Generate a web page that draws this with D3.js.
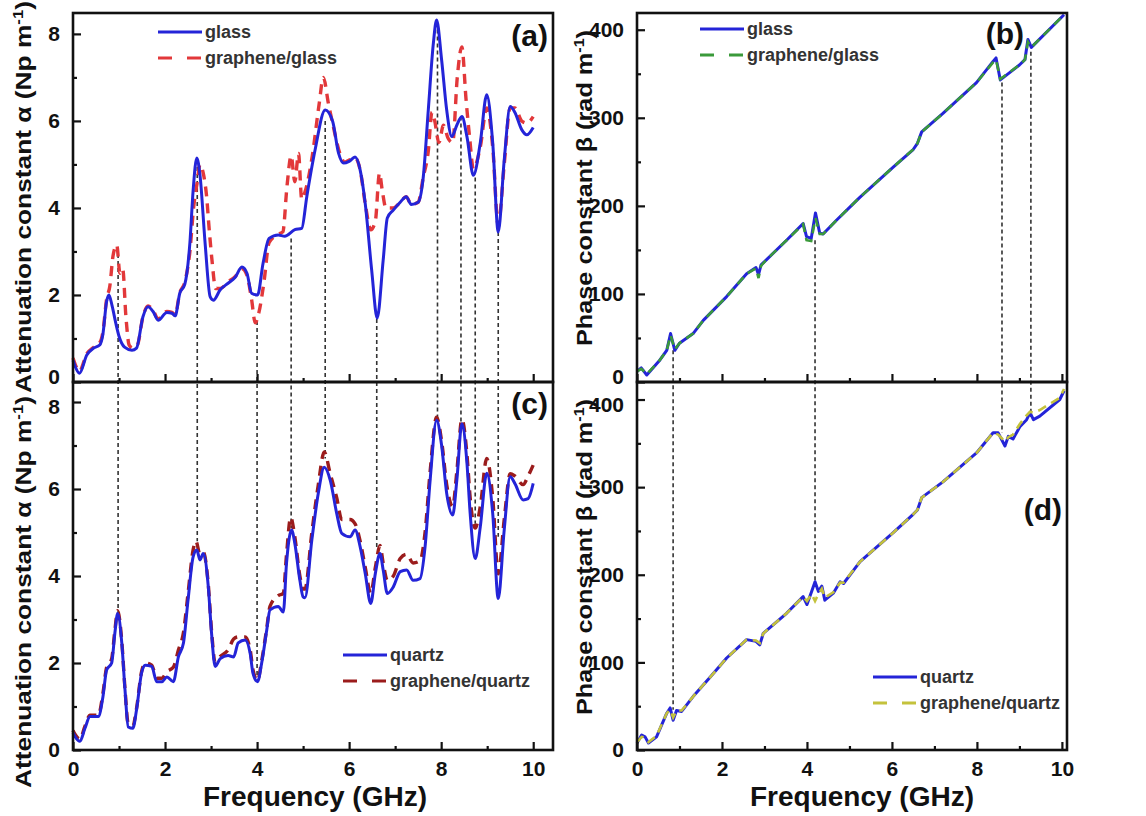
<!DOCTYPE html>
<html lang="en">
<head>
<meta charset="UTF-8" />
<title>Attenuation and phase constants</title>
<script src="https://cdn.jsdelivr.net/npm/d3@7/dist/d3.min.js"></script>
<style>
  body { margin: 0; background: #fff; }
  svg { display: block; font-family: "Liberation Sans", Arial, sans-serif; }
</style>
</head>
<body>
<script>
// frequency (GHz) / value pairs
const glassAlpha = [[0,0.5],[0.05,0.35],[0.14,0.2],[0.3,0.62],[0.45,0.78],[0.58,0.85],[0.65,1.1],[0.73,1.85],[0.78,2.0],[0.85,1.75],[0.93,1.35],[1.0,1.05],[1.12,0.8],[1.28,0.73],[1.38,0.78],[1.52,1.5],[1.63,1.73],[1.74,1.62],[1.85,1.42],[2.04,1.6],[2.15,1.58],[2.22,1.52],[2.32,2.04],[2.43,2.25],[2.54,3.2],[2.61,4.4],[2.69,5.15],[2.76,4.75],[2.87,3.2],[2.98,1.96],[3.05,1.88],[3.2,2.12],[3.37,2.27],[3.52,2.4],[3.67,2.64],[3.78,2.5],[3.88,2.04],[4.01,2.0],[4.13,2.73],[4.26,3.3],[4.46,3.38],[4.6,3.35],[4.82,3.5],[4.97,3.53],[5.08,4.26],[5.26,5.33],[5.48,6.25],[5.64,6.0],[5.77,5.26],[5.88,5.03],[6.0,5.07],[6.13,5.17],[6.24,4.87],[6.35,4.1],[6.49,2.57],[6.61,1.47],[6.74,2.8],[6.83,3.77],[6.96,3.95],[7.11,4.13],[7.24,4.26],[7.35,4.08],[7.5,4.13],[7.61,4.7],[7.72,6.25],[7.83,7.78],[7.9,8.32],[8.01,7.4],[8.12,6.25],[8.23,5.64],[8.34,5.9],[8.45,6.1],[8.56,5.64],[8.7,4.75],[8.85,5.5],[8.99,6.6],[9.12,5.5],[9.24,3.45],[9.37,5.1],[9.5,6.33],[9.6,6.2],[9.75,5.8],[9.86,5.68],[10.0,5.85]];
const grapheneGlassAlpha = [[0,0.55],[0.05,0.4],[0.14,0.25],[0.3,0.65],[0.45,0.8],[0.58,0.9],[0.65,1.15],[0.73,1.9],[0.8,2.2],[0.87,2.9],[0.95,3.15],[1.02,2.5],[1.08,2.6],[1.15,1.5],[1.22,0.85],[1.3,0.78],[1.4,0.85],[1.52,1.5],[1.63,1.75],[1.74,1.65],[1.85,1.45],[2.04,1.62],[2.15,1.6],[2.22,1.55],[2.32,2.05],[2.43,2.3],[2.54,3.0],[2.62,4.0],[2.7,4.6],[2.76,5.0],[2.83,4.8],[2.9,4.3],[2.96,3.5],[3.02,2.8],[3.1,2.15],[3.2,2.15],[3.37,2.3],[3.52,2.42],[3.67,2.6],[3.78,2.45],[3.88,1.9],[3.96,1.36],[4.04,1.6],[4.15,2.3],[4.26,3.2],[4.46,3.4],[4.56,3.45],[4.65,4.5],[4.74,5.2],[4.82,4.6],[4.9,5.25],[4.97,4.2],[5.05,4.4],[5.2,5.2],[5.35,6.4],[5.44,7.0],[5.55,6.4],[5.65,5.9],[5.8,5.25],[5.9,5.05],[6.0,5.1],[6.13,5.15],[6.24,4.87],[6.35,4.1],[6.47,3.5],[6.57,3.7],[6.66,4.8],[6.72,4.4],[6.8,4.0],[6.96,4.0],[7.11,4.13],[7.24,4.26],[7.35,4.08],[7.5,4.13],[7.61,4.7],[7.72,5.3],[7.8,6.2],[7.86,6.0],[7.95,5.5],[8.05,5.9],[8.15,5.6],[8.25,5.5],[8.35,7.0],[8.45,7.7],[8.54,6.5],[8.62,5.6],[8.7,4.9],[8.85,5.4],[8.99,6.3],[9.12,5.4],[9.24,3.6],[9.37,5.0],[9.5,6.3],[9.6,6.3],[9.75,6.0],[9.86,5.95],[10.0,6.1]];

const quartzAlpha = [[0,0.4],[0.05,0.3],[0.15,0.2],[0.26,0.5],[0.37,0.77],[0.55,0.77],[0.65,1.22],[0.73,1.84],[0.84,2.0],[0.91,2.69],[0.97,3.14],[1.06,2.46],[1.13,1.38],[1.2,0.53],[1.3,0.5],[1.38,0.92],[1.49,1.77],[1.57,1.95],[1.71,1.92],[1.82,1.57],[1.93,1.57],[2.04,1.68],[2.18,1.57],[2.29,2.14],[2.4,2.46],[2.5,3.45],[2.61,4.44],[2.69,4.6],[2.76,4.37],[2.83,4.52],[2.94,3.75],[3.01,2.69],[3.09,1.92],[3.2,2.1],[3.37,2.17],[3.49,2.14],[3.59,2.46],[3.74,2.53],[3.85,2.22],[3.91,1.77],[4.01,1.57],[4.1,2.0],[4.21,2.76],[4.28,3.22],[4.46,3.3],[4.57,3.17],[4.64,4.3],[4.75,5.06],[4.82,4.75],[4.93,3.9],[5.0,3.52],[5.04,3.5],[5.19,4.83],[5.33,5.9],[5.46,6.5],[5.59,6.2],[5.73,5.44],[5.84,4.98],[6.02,4.9],[6.13,5.06],[6.24,4.67],[6.35,4.06],[6.47,3.37],[6.57,4.06],[6.67,4.52],[6.74,4.14],[6.83,3.6],[6.96,3.75],[7.11,4.1],[7.25,4.14],[7.39,3.9],[7.54,3.94],[7.65,4.67],[7.76,6.2],[7.9,7.58],[8.01,7.0],[8.12,5.9],[8.25,5.4],[8.34,6.2],[8.45,7.5],[8.56,6.6],[8.63,5.44],[8.74,4.4],[8.85,5.13],[8.99,6.36],[9.12,5.44],[9.24,3.48],[9.37,5.06],[9.5,6.28],[9.6,6.13],[9.78,5.75],[9.89,5.78],[10.0,6.13]];
const grapheneQuartzAlpha = [[0,0.45],[0.05,0.35],[0.15,0.25],[0.26,0.55],[0.37,0.8],[0.55,0.8],[0.65,1.3],[0.73,1.9],[0.84,2.1],[0.91,2.75],[0.97,3.2],[1.06,2.5],[1.13,1.4],[1.2,0.6],[1.3,0.55],[1.38,0.95],[1.49,1.8],[1.57,2.0],[1.71,1.95],[1.82,1.65],[1.93,1.65],[2.04,1.8],[2.18,1.9],[2.29,2.3],[2.4,2.7],[2.5,3.6],[2.61,4.6],[2.67,4.8],[2.76,4.5],[2.83,4.55],[2.94,3.8],[3.01,2.75],[3.09,2.0],[3.2,2.15],[3.37,2.3],[3.49,2.55],[3.59,2.6],[3.74,2.6],[3.85,2.3],[3.91,1.85],[4.01,1.6],[4.1,2.05],[4.21,2.8],[4.28,3.3],[4.46,3.55],[4.57,3.6],[4.64,4.5],[4.73,5.35],[4.82,4.9],[4.93,4.0],[5.0,3.7],[5.04,3.7],[5.19,5.0],[5.33,6.1],[5.46,6.85],[5.59,6.35],[5.73,5.8],[5.84,5.3],[6.02,5.3],[6.13,5.2],[6.24,4.8],[6.35,4.2],[6.47,3.6],[6.57,4.2],[6.67,4.7],[6.74,4.3],[6.83,3.9],[6.96,4.0],[7.11,4.4],[7.25,4.5],[7.39,4.3],[7.54,4.35],[7.65,5.0],[7.76,6.4],[7.9,7.65],[8.01,7.1],[8.12,6.1],[8.25,5.6],[8.34,6.4],[8.45,7.6],[8.56,6.8],[8.63,5.8],[8.74,5.1],[8.85,5.6],[8.99,6.7],[9.12,5.8],[9.24,4.05],[9.37,5.3],[9.5,6.35],[9.6,6.3],[9.78,6.1],[9.89,6.3],[10.0,6.55]];

const glassBeta = [[0,12],[0.1,16],[0.23,8],[0.54,25],[0.7,36],[0.79,55],[0.89,36],[1.0,44],[1.32,55],[1.56,70],[2.11,97],[2.58,123],[2.8,130],[2.86,122],[2.92,133],[3.05,139],[3.52,161],[3.91,180],[3.99,165],[4.1,163],[4.2,192],[4.3,169],[4.38,168],[4.7,184],[5.25,210],[6.03,244],[6.5,264],[6.6,271],[6.7,284],[7.2,305],[7.99,340],[8.38,364],[8.45,368],[8.55,343],[9.0,360],[9.13,366],[9.2,389],[9.28,380],[10.05,417]];
const grapheneGlassBeta = [[0,12],[0.1,15],[0.23,9],[0.54,25],[0.7,36],[0.79,53],[0.89,37],[1.0,44],[1.32,55],[1.56,70],[2.11,97],[2.58,123],[2.8,129],[2.86,118],[2.92,132],[3.05,139],[3.52,161],[3.91,179],[3.99,161],[4.1,160],[4.2,186],[4.3,168],[4.38,168],[4.7,184],[5.25,210],[6.03,244],[6.5,264],[6.6,271],[6.7,284],[7.2,305],[7.99,340],[8.38,363],[8.45,366],[8.55,344],[9.0,360],[9.13,366],[9.2,386],[9.28,380],[10.05,417]];

const quartzBeta = [[0,8],[0.11,17],[0.19,15],[0.27,8],[0.46,15],[0.7,42],[0.78,48],[0.85,34],[0.93,45],[1.05,44],[1.32,61],[1.72,83],[2.11,105],[2.58,126],[2.8,124],[2.89,120],[2.97,133],[3.52,156],[3.91,175],[4.0,166],[4.11,181],[4.19,192],[4.27,181],[4.35,187],[4.42,171],[4.62,179],[4.78,192],[4.86,190],[5.25,215],[6.03,248],[6.5,269],[6.6,274],[6.7,288],[7.2,306],[7.99,339],[8.38,362],[8.5,362],[8.66,347],[8.74,358],[8.85,355],[9.01,369],[9.17,377],[9.25,385],[9.33,377],[9.48,381],[9.95,400],[10.05,410]];
const grapheneQuartzBeta = [[0,9],[0.11,15],[0.19,14],[0.27,9],[0.46,16],[0.7,42],[0.78,46],[0.85,37],[0.93,45],[1.05,45],[1.32,61],[1.72,83],[2.11,105],[2.58,126],[2.8,125],[2.89,122],[2.97,133],[3.52,156],[3.91,175],[4.0,170],[4.11,178],[4.19,170],[4.27,178],[4.35,184],[4.42,174],[4.62,180],[4.78,191],[4.86,191],[5.25,215],[6.03,248],[6.5,269],[6.6,274],[6.7,288],[7.2,306],[7.99,339],[8.38,362],[8.5,360],[8.66,352],[8.74,357],[8.85,360],[9.01,372],[9.17,382],[9.25,386],[9.33,385],[9.48,388],[9.95,402],[10.05,412]];

// dashed guide lines: frequency, value where it leaves the top panel, value where it ends in the bottom panel
const guideFreqAlpha = [0.98, 2.7, 4.0, 4.74, 5.48, 6.6, 7.92, 8.43, 8.74, 9.24];
const guideTopAlpha = [3.1, 5.1, 1.4, 3.3, 6.0, 1.45, 8.1, 6.1, 4.7, 3.45];
const guideBottomAlpha = [3.1, 4.8, 1.7, 5.1, 6.7, 4.6, 7.6, 7.5, 5.2, 4.9];
const guideFreqBeta = [0.85, 4.19, 8.59, 9.27];
const guideTopBeta = [36, 161, 340, 375];
const guideBottomBeta = [46, 186, 362, 380];

const freqTicks = [0, 2, 4, 6, 8, 10];
const freqMinor = [1, 3, 5, 7, 9];
const alphaTicks = [0, 2, 4, 6, 8];
const alphaMinor = [1, 3, 5, 7];
const betaTicks = [0, 100, 200, 300, 400];
const betaMinor = [50, 150, 250, 350];

const blue = '#2424d8';
const W = 1146, H = 816;
const fontFam = '"Liberation Sans", Arial, sans-serif';

const svg = d3.select('body').append('svg')
    .attr('width', W)
    .attr('height', H);

const xLeft = d3.scaleLinear().domain([0, 10.43]).range([73, 553]);
const xRight = d3.scaleLinear().domain([0, 10.12]).range([637, 1067]);
const yA = d3.scaleLinear().domain([0, 8.48]).range([382, 13]);
const yC = d3.scaleLinear().domain([0, 8.46]).range([750, 382]);
const yB = d3.scaleLinear().domain([0, 419]).range([382, 13]);
const yD = d3.scaleLinear().domain([0, 420]).range([750, 382]);

const panels = [
    {x: xLeft, y: yA, ticks: alphaTicks, minor: alphaMinor, top: true, label: '(a)', labelX: 548, labelY: 46,
     solid: glassAlpha, dashed: grapheneGlassAlpha, dashColor: '#e2383a', smooth: true, dashTop: false,
     legend: ['glass', 'graphene/glass'], legX: 158, legY: 32},
    {x: xLeft, y: yC, ticks: alphaTicks, minor: alphaMinor, top: false, label: '(c)', labelX: 548, labelY: 414,
     solid: quartzAlpha, dashed: grapheneQuartzAlpha, dashColor: '#9b1c1c', smooth: true, dashTop: false,
     legend: ['quartz', 'graphene/quartz'], legX: 343, legY: 655},
    {x: xRight, y: yB, ticks: betaTicks, minor: betaMinor, top: true, label: '(b)', labelX: 1024, labelY: 44,
     solid: glassBeta, dashed: grapheneGlassBeta, dashColor: '#3a9a3a', smooth: false, dashTop: true,
     legend: ['glass', 'graphene/glass'], legX: 700, legY: 29},
    {x: xRight, y: yD, ticks: betaTicks, minor: betaMinor, top: false, label: '(d)', labelX: 1062, labelY: 520,
     solid: quartzBeta, dashed: grapheneQuartzBeta, dashColor: '#c4c23c', smooth: false, dashTop: true,
     legend: ['quartz', 'graphene/quartz'], legX: 873, legY: 677}
];

// guide lines go behind everything
const guides = svg.append('g')
    .attr('stroke', '#333')
    .attr('stroke-width', 1.6)
    .attr('stroke-dasharray', '4,3');

guides.selectAll('line.ga')
    .data(guideFreqAlpha)
    .join('line')
    .attr('class', 'ga')
    .attr('x1', d => xLeft(d)).attr('x2', d => xLeft(d))
    .attr('y1', (d, i) => yA(guideTopAlpha[i]))
    .attr('y2', (d, i) => yC(guideBottomAlpha[i]));

guides.selectAll('line.gb')
    .data(guideFreqBeta)
    .join('line')
    .attr('class', 'gb')
    .attr('x1', d => xRight(d)).attr('x2', d => xRight(d))
    .attr('y1', (d, i) => yB(guideTopBeta[i]))
    .attr('y2', (d, i) => yD(guideBottomBeta[i]));

panels.forEach(p => {
    const g = svg.append('g');
    const [x0, x1] = p.x.range();
    const [y0, y1] = p.y.range();

    const line = d3.line()
        .x(d => p.x(d[0]))
        .y(d => p.y(d[1]))
        .curve(p.smooth ? d3.curveMonotoneX : d3.curveLinear);

    const drawSolid = () => g.append('path')
        .datum(p.solid)
        .attr('fill', 'none')
        .attr('stroke', blue)
        .attr('stroke-width', 3)
        .attr('stroke-linejoin', 'round')
        .attr('d', line);
    const drawDashed = () => g.append('path')
        .datum(p.dashed)
        .attr('fill', 'none')
        .attr('stroke', p.dashColor)
        .attr('stroke-width', p.smooth ? 3.4 : 2.6)
        .attr('stroke-dasharray', p.smooth ? '10,7' : '9,6')
        .attr('d', line);

    if (p.dashTop) { drawSolid(); drawDashed(); }
    else { drawDashed(); drawSolid(); }

    // axes: inward ticks, no domain path
    g.append('g').attr('transform', `translate(0,${y0})`)
        .call(d3.axisBottom(p.x).tickValues(freqTicks).tickSize(-8).tickPadding(11)
            .tickFormat(p.top ? '' : d3.format('d')));
    g.append('g').attr('transform', `translate(0,${y0})`)
        .call(d3.axisBottom(p.x).tickValues(freqMinor).tickSize(-4).tickFormat(''));
    const yAxis = g.append('g').attr('transform', `translate(${x0},0)`)
        .call(d3.axisLeft(p.y).tickValues(p.ticks).tickSize(-8).tickPadding(13).tickFormat(d3.format('d')));
    g.append('g').attr('transform', `translate(${x0},0)`)
        .call(d3.axisLeft(p.y).tickValues(p.minor).tickSize(-4).tickFormat(''));

    g.selectAll('.domain').remove();
    g.selectAll('.tick line').attr('stroke', '#111').attr('stroke-width', 2.2);
    g.selectAll('.tick text')
        .attr('font-family', fontFam)
        .attr('font-size', 21)
        .attr('font-weight', 'bold')
        .attr('fill', '#111');

    // the shared edge labels sit crammed together, as in the figure
    const ticks = yAxis.selectAll('.tick text');
    if (p.top) ticks.filter(d => d === 0).attr('dy', '0.05em');
    else ticks.filter(d => d === p.ticks[p.ticks.length - 1]).attr('dy', '0.55em');

    g.append('rect')
        .attr('x', x0).attr('y', y1)
        .attr('width', x1 - x0).attr('height', y0 - y1)
        .attr('fill', 'none')
        .attr('stroke', '#111')
        .attr('stroke-width', 2.6);

    g.append('text')
        .attr('x', p.labelX).attr('y', p.labelY)
        .attr('text-anchor', 'end')
        .attr('font-family', fontFam)
        .attr('font-size', 30)
        .attr('font-weight', 'bold')
        .attr('fill', '#111')
        .text(p.label);

    // legend
    const leg = g.append('g').attr('transform', `translate(${p.legX},${p.legY})`);
    leg.append('line').attr('x1', 0).attr('x2', 44).attr('y1', 0).attr('y2', 0)
        .attr('stroke', blue).attr('stroke-width', 3);
    leg.append('line').attr('x1', 0).attr('x2', 44).attr('y1', 26).attr('y2', 26)
        .attr('stroke', p.dashColor).attr('stroke-width', 3.2)
        .attr('stroke-dasharray', '14,15');
    leg.selectAll('text')
        .data(p.legend)
        .join('text')
        .attr('x', 47)
        .attr('y', (d, i) => i * 26 + 6)
        .attr('font-family', fontFam)
        .attr('font-size', 18)
        .attr('font-weight', 'bold')
        .attr('fill', '#333')
        .text(d => d);
});

// axis titles
const yTitle = (cx, cy, name, unit, len) => {
    const t = svg.append('text')
        .attr('transform', `translate(${cx},${cy}) rotate(-90)`)
        .attr('text-anchor', 'middle')
        .attr('font-family', fontFam)
        .attr('font-size', 22)
        .attr('font-weight', 'bold')
        .attr('fill', '#111')
        .attr('textLength', len)
        .attr('lengthAdjust', 'spacingAndGlyphs');
    t.append('tspan').text(name + ' (' + unit + ' m');
    t.append('tspan').attr('baseline-shift', 'super').attr('font-size', 14).text('-1');
    t.append('tspan').text(')');
};
yTitle(31, 197, 'Attenuation constant \u03b1', 'Np', 392);
yTitle(31, 592, 'Attenuation constant \u03b1', 'Np', 392);
yTitle(592, 188, 'Phase constant \u03b2', 'rad', 316);
yTitle(592, 557, 'Phase constant \u03b2', 'rad', 316);

[315, 862].forEach(cx => {
    svg.append('text')
        .attr('x', cx).attr('y', 806)
        .attr('text-anchor', 'middle')
        .attr('font-family', fontFam)
        .attr('font-size', 28)
        .attr('font-weight', 'bold')
        .attr('fill', '#111')
        .text('Frequency (GHz)');
});
</script>
</body>
</html>
